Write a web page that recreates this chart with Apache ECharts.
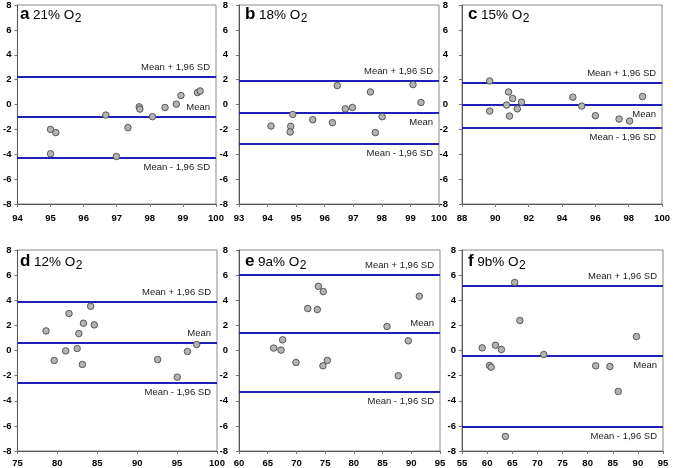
<!DOCTYPE html>
<html><head><meta charset="utf-8">
<script src="https://cdn.jsdelivr.net/npm/echarts@6/dist/echarts.min.js"></script>
<style>html,body{margin:0;padding:0;background:#fff}#c{width:673px;height:468px}</style>
</head><body><div id="c"></div>
<script>
// ---- data ----
const panelLetters = ['a', 'b', 'c', 'd', 'e', 'f'];
const panelConditions = ['21% O', '18% O', '15% O', '12% O', '9a% O', '9b% O'];

const xA = [95.0, 95.16, 95.0, 96.67, 96.99, 97.34, 97.68, 97.70, 98.08, 98.46, 98.80, 98.94, 99.44, 99.52];
const yA = [-2.0, -2.26, -3.96, -0.85, -4.18, -1.86, -0.19, -0.37, -0.98, -0.24, 0.03, 0.72, 0.96, 1.09];
const limitsA = [2.23, -1.01, -4.28];

const xB = [94.12, 94.81, 94.79, 94.88, 95.58, 96.27, 96.44, 96.72, 96.97, 97.60, 97.77, 98.01, 99.09, 99.37];
const yB = [-1.73, -1.76, -2.21, -0.80, -1.22, -1.46, 1.52, -0.35, -0.24, 1.01, -2.26, -0.98, 1.60, 0.16];
const limitsB = [1.89, -0.64, -3.19];

const xC = [89.66, 89.66, 90.67, 90.79, 90.85, 91.04, 91.32, 91.57, 94.65, 95.18, 96.0, 97.42, 98.05, 98.83];
const yC = [1.89, -0.53, -0.05, 1.01, -0.93, 0.48, -0.35, 0.19, 0.59, -0.13, -0.90, -1.17, -1.33, 0.64];
const limitsC = [1.73, -0.06, -1.86];

const xD = [78.58, 79.61, 81.04, 81.46, 82.48, 82.69, 83.14, 83.27, 84.17, 84.62, 92.56, 95.02, 96.30, 97.45];
const yD = [1.56, -0.79, -0.03, 2.94, 0.16, 1.35, -1.11, 2.17, 3.52, 2.04, -0.72, -2.12, -0.08, 0.48];
const limitsD = [3.89, 0.64, -2.57];

const xE = [66.04, 67.32, 67.60, 69.92, 71.96, 73.64, 73.81, 74.68, 74.62, 75.38, 85.77, 87.74, 89.48, 91.40];
const yE = [0.19, 0.03, 0.85, -0.95, 3.34, 3.26, 5.11, 4.69, -1.22, -0.79, 1.91, -2.01, 0.77, 4.32];
const limitsE = [6.04, 1.38, -3.31];

const xF = [59.02, 60.47, 60.80, 61.65, 62.84, 63.63, 65.47, 66.52, 71.27, 81.61, 84.44, 86.09, 89.72];
const yF = [0.21, -1.19, -1.33, 0.42, 0.08, -6.84, 5.41, 2.39, -0.32, -1.22, -1.27, -3.26, 1.11];
const limitsF = [5.12, -0.45, -6.07];

const xRanges = [[94, 100, 1], [93, 100, 1], [88, 100, 2], [75, 100, 5], [60, 95, 5], [55, 95, 5]];
const yRange = [-8, 8, 2];
const limitLabels = ['Mean + 1,96 SD', 'Mean', 'Mean - 1,96 SD'];

// ---- layout ----
const layout = [
  {l: 14, r: 216, t: 3, b: 204, ym: 6, xm: 9, meanPos: 'insideEndTop'},
  {l: 239, r: 439, t: 3, b: 204, ym: 11, xm: 9, meanPos: 'insideEndBottom'},
  {l: 462, r: 665, t: 3, b: 204, ym: 14, xm: 9, meanPos: 'insideEndBottom'},
  {l: 14, r: 217, t: 250, b: 451, ym: 6, xm: 7, meanPos: 'insideEndTop'},
  {l: 239, r: 440, t: 250, b: 451, ym: 11, xm: 7, meanPos: 'insideEndTop'},
  {l: 462, r: 663, t: 250, b: 451, ym: 6, xm: 7, meanPos: 'insideEndBottom'}
];

const xs = [xA, xB, xC, xD, xE, xF];
const ys = [yA, yB, yC, yD, yE, yF];
const limits = [limitsA, limitsB, limitsC, limitsD, limitsE, limitsF];

const FONT = '"Liberation Sans", Arial, sans-serif';
const BLUE = '#2020b8';

const grids = [], xAxes = [], yAxes = [], series = [], graphics = [];
const ctx = document.createElement('canvas').getContext('2d');

layout.forEach((p, i) => {
  grids.push({left: p.l, top: p.t, width: p.r - p.l, height: p.b - p.t,
    show: true, borderColor: '#8a8a8a', borderWidth: 1, backgroundColor: '#fff'});
  xAxes.push({type: 'value', gridIndex: i, min: xRanges[i][0], max: xRanges[i][1], interval: xRanges[i][2],
    axisLine: {show: true, onZero: false, lineStyle: {color: '#555', width: 1}},
    axisTick: {show: true, inside: false, length: 3, lineStyle: {color: '#777'}},
    splitLine: {show: false},
    axisLabel: {margin: p.xm, color: '#000', fontWeight: 'bold', fontSize: 9.5, fontFamily: FONT}});
  yAxes.push({type: 'value', gridIndex: i, min: yRange[0], max: yRange[1], interval: yRange[2],
    axisLine: {show: true, onZero: false, lineStyle: {color: '#555', width: 1}},
    axisTick: {show: true, inside: false, length: 3, lineStyle: {color: '#777'}},
    splitLine: {show: false},
    axisLabel: {margin: p.ym, color: '#000', fontWeight: 'bold', fontSize: 9.5, fontFamily: FONT}});
  const lim = limits[i];
  const labelPos = ['insideEndTop', p.meanPos, 'insideEndBottom'];
  series.push({
    type: 'scatter', xAxisIndex: i, yAxisIndex: i,
    data: xs[i].map((x, k) => [x, ys[i][k]]),
    symbol: 'circle', symbolSize: 6.5,
    itemStyle: {color: '#b4b4b4', borderColor: '#4a4a4a', borderWidth: 0.9, opacity: 1},
    z: 5,
    markLine: {
      silent: true, symbol: 'none', animation: false,
      lineStyle: {type: 'solid', color: BLUE, width: 1.8},
      data: lim.map((v, k) => ({
        yAxis: v,
        label: {show: true, formatter: limitLabels[k], position: labelPos[k], distance: [6, 4.5],
          color: '#222', fontSize: 9.5, fontFamily: FONT}
      }))
    }
  });
  // panel title
  const fsB = 17, fsN = 13.5, fsS = 12;
  const baseline = p.t + 17;
  ctx.font = 'bold ' + fsB + 'px ' + FONT;
  const wB = ctx.measureText(panelLetters[i]).width;
  ctx.font = fsN + 'px ' + FONT;
  const wN = ctx.measureText(panelConditions[i]).width;
  const x0 = p.l + 6;
  graphics.push({type: 'text', x: x0, y: baseline - 0.35 * fsB, z: 10,
    style: {text: panelLetters[i], font: 'bold ' + fsB + 'px ' + FONT, fill: '#000', verticalAlign: 'middle'}});
  graphics.push({type: 'text', x: x0 + wB + 3.5, y: baseline - 0.35 * fsN, z: 10,
    style: {text: panelConditions[i], font: fsN + 'px ' + FONT, fill: '#000', verticalAlign: 'middle'}});
  graphics.push({type: 'text', x: x0 + wB + 3.5 + wN + 0.5, y: baseline + 2.5 - 0.35 * fsS, z: 10,
    style: {text: '2', font: fsS + 'px ' + FONT, fill: '#000', verticalAlign: 'middle'}});
});

const chart = echarts.init(document.getElementById('c'), null, {renderer: 'canvas'});
chart.setOption({
  animation: false,
  backgroundColor: '#fff',
  grid: grids, xAxis: xAxes, yAxis: yAxes, series: series, graphic: graphics
});
</script>
</body></html>
